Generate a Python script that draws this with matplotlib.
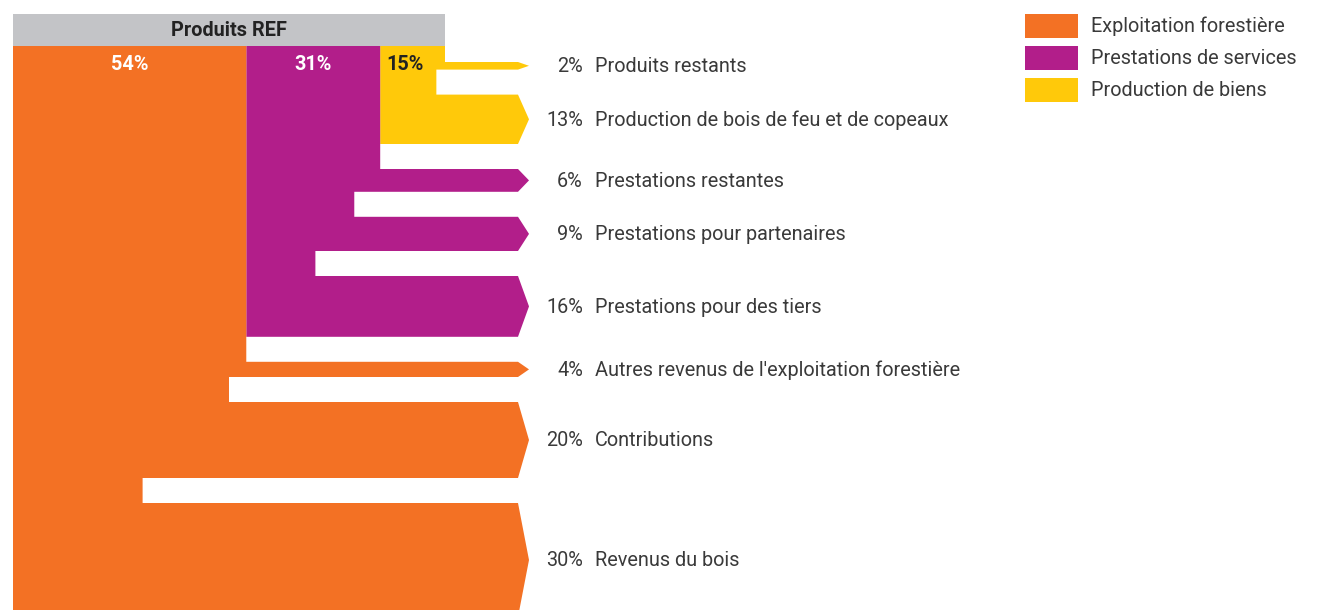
import matplotlib
matplotlib.use("Agg")
import matplotlib.pyplot as plt
from matplotlib.patches import Polygon, Rectangle

plt.rcParams['font.family'] = ['Roboto', 'DejaVu Sans']

# données
categories = ['Exploitation forestière', 'Prestations de services', 'Production de biens']
cat_values = [54, 31, 15]
colors = ['#F37124', '#B21E8A', '#FFC90A']
cat_text_colors = ['white', 'white', '#222222']

# branches par catégorie (de haut en bas, dans l'ordre d'affichage)
branch_labels = [
    ["Autres revenus de l'exploitation forestière", 'Contributions', 'Revenus du bois'],
    ['Prestations restantes', 'Prestations pour partenaires', 'Prestations pour des tiers'],
    ['Produits restants', 'Production de bois de feu et de copeaux'],
]
branch_values = [
    [4, 20, 30],
    [6, 9, 16],
    [2, 13],
]
header = 'Produits REF'

# mise en page (pixels)
W, H = 1321, 610
x0 = 13
sx = 4.32        # px par % horizontal
sy = 3.8         # px par % vertical
head_top, head_bot = 14, 46
first_y = 62
gap = 25
x_end = 518
x_tip = 529
fs = 14.3
txt_col = '#3a3a3a'

fig = plt.figure(figsize=(W / 100, H / 100), dpi=100)
ax = fig.add_axes([0, 0, 1, 1])
ax.set_xlim(0, W)
ax.set_ylim(H, 0)
ax.axis('off')

# en-tête gris
ax.add_patch(Rectangle((x0, head_top), sum(cat_values) * sx, head_bot - head_top,
                       color='#C3C4C7', lw=0))
ax.text(x0 + sum(cat_values) * sx / 2, (head_top + head_bot) / 2 + 1, header,
        ha='center', va='center', fontsize=fs, fontweight='bold', color='#222222')

# ordre vertical : biens, services, exploitation
order = [2, 1, 0]
col_left = {}
xl = x0
for i in range(3):
    col_left[i] = xl
    xl += cat_values[i] * sx

y = first_y
for i in order:
    left = col_left[i]
    right = left + cat_values[i] * sx
    pts = [(left, head_bot), (right, head_bot)]
    for v, lab in zip(branch_values[i], branch_labels[i]):
        a = y
        b = y + v * sy
        mid = (a + b) / 2
        pts += [(right, a), (x_end, a), (x_tip, mid), (x_end, b)]
        right = right - v * sx
        pts.append((max(right, left), b))
        ax.text(583, mid + 1, f'{v}%', ha='right', va='center', fontsize=fs, color=txt_col)
        ax.text(595, mid + 1, lab, ha='left', va='center', fontsize=fs, color=txt_col)
        y = b + gap
    pts.append((left, pts[-1][1]))
    ax.add_patch(Polygon(pts, closed=True, facecolor=colors[i], edgecolor='none', lw=0))

# pourcentages des colonnes
for i in range(3):
    cx = col_left[i] + cat_values[i] * sx / 2
    if i == 2:
        cx -= 8
    ax.text(cx, 64.5, f'{cat_values[i]}%', ha='center', va='center', fontsize=fs,
            fontweight='bold', color=cat_text_colors[i])

# légende
for k, (c, name) in enumerate(zip(colors, categories)):
    ly = 14 + k * 32
    ax.add_patch(Rectangle((1025, ly), 53, 23.5, color=c, lw=0))
    ax.text(1091, ly + 12.5, name, ha='left', va='center', fontsize=fs, color=txt_col)

fig.savefig('out.png', dpi=100)
